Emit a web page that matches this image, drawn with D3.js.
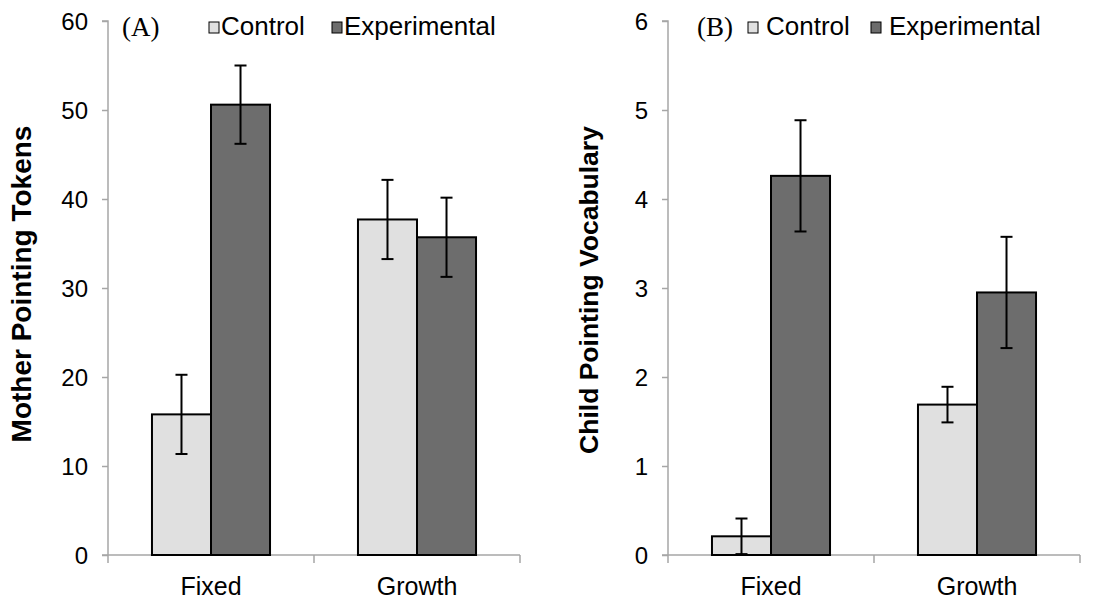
<!DOCTYPE html>
<html><head><meta charset="utf-8">
<script src="https://cdn.jsdelivr.net/npm/d3@7"></script>
<style>body{margin:0;background:#fff}svg{display:block}</style>
</head><body><svg id="c" width="1098" height="606"></svg>
<script>
const categories = ["Fixed", "Growth"];
const seriesNames = ["Control", "Experimental"];
const seriesColors = ["#e0e0e0", "#6d6d6d"];
// Panel A: Mother Pointing Tokens
const aControl = [15.8, 37.7];
const aControlErr = [4.45, 4.45];
const aExperimental = [50.6, 35.7];
const aExperimentalErr = [4.4, 4.45];
const aTicks = [0, 10, 20, 30, 40, 50, 60];
// Panel B: Child Pointing Vocabulary
const bControl = [0.21, 1.69];
const bControlErr = [0.2, 0.2];
const bExperimental = [4.26, 2.95];
const bExperimentalErr = [0.625, 0.625];
const bTicks = [0, 1, 2, 3, 4, 5, 6];

const svg = d3.select("#c");
const FONT = "'Liberation Sans', Arial, sans-serif";

function panel(opts) {
  const g = svg.append("g");
  const x0 = d3.scaleBand().domain(categories).range([opts.x0, opts.x1]).padding(0);
  const x1 = d3.scaleBand().domain(seriesNames).range([0, x0.bandwidth()]).paddingInner(0).paddingOuter(0.745);
  const y = d3.scaleLinear().domain([0, opts.max]).range([555, 21]);

  // y axis
  const yAx = g.append("g").attr("transform", `translate(${opts.x0},0)`)
    .call(d3.axisLeft(y).tickValues(opts.ticks).tickSize(6).tickPadding(14).tickFormat(d3.format("d")));
  yAx.select(".domain").attr("stroke", "#a6a6a6").attr("stroke-width", 1.5).attr("d", `M-6,${y(opts.max)}H0V${y(0)}`);
  yAx.selectAll(".tick line").attr("stroke", "#a6a6a6").attr("stroke-width", 1.5);
  yAx.selectAll(".tick text").attr("font-family", FONT).attr("font-size", 24).attr("fill", "#000").attr("dy", "0.36em");

  // x axis
  const xAx = g.append("g").attr("transform", `translate(0,${y(0)})`);
  xAx.append("path").attr("d", `M${opts.x0 - 6},0H${opts.x1}`).attr("stroke", "#a6a6a6").attr("stroke-width", 1.5).attr("fill", "none");
  const bounds = [opts.x0].concat(categories.map(c => x0(c) + x0.bandwidth()));
  xAx.selectAll("line.bt").data(bounds).join("line")
    .attr("x1", d => d).attr("x2", d => d).attr("y1", 0).attr("y2", 8)
    .attr("stroke", "#a6a6a6").attr("stroke-width", 1.5);
  xAx.selectAll("text.cl").data(categories).join("text")
    .attr("x", d => x0(d) + x0.bandwidth() / 2).attr("y", 40)
    .attr("text-anchor", "middle").attr("font-family", FONT).attr("font-size", 25).text(d => d);

  // bars
  const rows = [];
  categories.forEach((c, i) => {
    rows.push({c, s: seriesNames[0], v: opts.control[i], e: opts.controlErr[i], col: seriesColors[0]});
    rows.push({c, s: seriesNames[1], v: opts.exp[i], e: opts.expErr[i], col: seriesColors[1]});
  });
  g.selectAll("rect.bar").data(rows).join("rect")
    .attr("x", d => x0(d.c) + x1(d.s)).attr("width", x1.bandwidth())
    .attr("y", d => y(d.v)).attr("height", d => y(0) - y(d.v))
    .attr("fill", d => d.col).attr("stroke", "#000").attr("stroke-width", 2);

  // error bars
  const eb = g.selectAll("g.eb").data(rows).join("g")
    .attr("transform", d => `translate(${x0(d.c) + x1(d.s) + x1.bandwidth() / 2},0)`);
  eb.append("line").attr("y1", d => y(d.v + d.e)).attr("y2", d => y(Math.max(0, d.v - d.e)))
    .attr("stroke", "#000").attr("stroke-width", 2);
  eb.append("line").attr("x1", -6).attr("x2", 6).attr("y1", d => y(d.v + d.e)).attr("y2", d => y(d.v + d.e))
    .attr("stroke", "#000").attr("stroke-width", 2);
  eb.append("line").attr("x1", -6).attr("x2", 6).attr("y1", d => y(Math.max(0, d.v - d.e))).attr("y2", d => y(Math.max(0, d.v - d.e)))
    .attr("stroke", "#000").attr("stroke-width", 2);

  // y title
  g.append("text").attr("transform", `translate(${opts.titleX},${opts.titleY}) rotate(-90)`)
    .attr("text-anchor", "middle").attr("font-family", FONT).attr("font-weight", "bold").attr("font-size", opts.titleSize)
    .text(opts.title);

  // panel label
  g.append("text").attr("x", opts.labelX).attr("y", 36).attr("font-family", "'Liberation Serif', 'Times New Roman', serif")
    .attr("font-size", 27).text(opts.label);

  // legend
  const lg = g.selectAll("g.lg").data(seriesNames).join("g");
  lg.append("rect").attr("x", (d, i) => opts.legX[i]).attr("y", 22).attr("width", 10).attr("height", 11)
    .attr("fill", (d, i) => seriesColors[i]).attr("stroke", "#000").attr("stroke-width", 1);
  lg.append("text").attr("x", (d, i) => opts.legTextX[i]).attr("y", 35).attr("font-family", FONT).attr("font-size", 26).text(d => d);
}

panel({x0: 108, x1: 520, max: 60, ticks: aTicks, control: aControl, controlErr: aControlErr,
  exp: aExperimental, expErr: aExperimentalErr, title: "Mother Pointing Tokens", titleSize: 28, titleX: 31, titleY: 284,
  label: "(A)", labelX: 122, legX: [209, 332], legTextX: [221, 344]});
panel({x0: 668, x1: 1080, max: 6, ticks: bTicks, control: bControl, controlErr: bControlErr,
  exp: bExperimental, expErr: bExperimentalErr, title: "Child Pointing Vocabulary", titleSize: 26.5, titleX: 598, titleY: 290,
  label: "(B)", labelX: 697, legX: [748, 871], legTextX: [766, 889]});
</script></body></html>
